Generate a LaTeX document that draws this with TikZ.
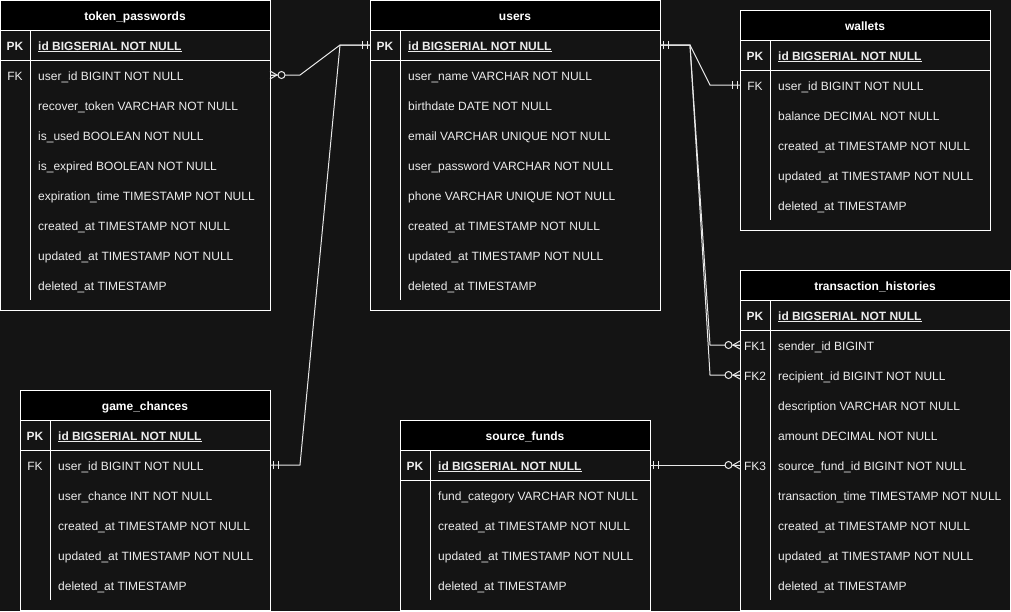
\documentclass[tikz,border=0pt]{standalone}
\usepackage{fontspec}
\setmainfont{Liberation Sans}
\usepackage{tikz}
\usetikzlibrary{positioning}
\definecolor{erbg}{RGB}{20,20,20}
\definecolor{erline}{RGB}{232,232,232}
\definecolor{ertext}{RGB}{236,236,236}
\tikzstyle{rel} = [draw=erline, line width=1pt]
\tikzstyle{sep} = [draw=white, line width=1pt]
\tikzset{
  pics/mone/.style={code={
    \draw[rel] (-3,-4) -- (-3,4);
    \draw[rel] (-8,-4) -- (-8,4);
  }},
  pics/zmany/.style={code={
    \draw[rel] (-7,0) -- (0,-4);
    \draw[rel] (-7,0) -- (0,0);
    \draw[rel] (-7,0) -- (0,4);
    \draw[rel, fill=erbg] (-11.5,0) circle (3.5pt);
  }}
}

\begin{document}
\begin{tikzpicture}[
    x=1pt, y=-1pt,
    every node/.style={font=\fontsize{12}{14}\selectfont, text=ertext},
    ttl/.style={rectangle, draw=white, fill=black, line width=1pt, minimum height=30pt, inner sep=0pt, outer sep=0pt, anchor=north west, text height=12pt, text depth=2pt, font=\fontsize{12}{14}\selectfont\bfseries, text=white},
    tbl/.style={rectangle, draw=white, line width=1pt, inner sep=0pt, outer sep=0pt, anchor=north},
    key/.style={inner sep=0pt, text height=12pt, text depth=2pt},
    pkey/.style={key, font=\fontsize{12}{14}\selectfont\bfseries},
    fld/.style={anchor=west, inner sep=0pt, text height=12pt, text depth=2pt}
]

% Background
\fill[erbg] (0,0) rectangle (1011,611);
\useasboundingbox (0,0) rectangle (1011,611);

% token_passwords (top left)
\node[ttl, minimum width=270pt] (tokpw-t) at (0,0) {token\_passwords};
\node[tbl, minimum width=270pt, minimum height=280pt] (tokpw) at (tokpw-t.south) {};
\draw[sep] (0,60) -- (270,60);
\draw[sep] (30,30) -- (30,300);
\node[pkey] (tokpw-pkk) at (15,45) {PK};
\node[fld] (tokpw-pk) at (38,45) {\bfseries\underline{id BIGSERIAL NOT NULL}};
\node[key] (tokpw-fkk) at (15,75) {FK};
\node[fld] (tokpw-fk) at (38,75) {user\_id BIGINT NOT NULL};
\node[fld] (tokpw-tok) at (38,105) {recover\_token VARCHAR NOT NULL};
\node[fld] (tokpw-used) at (38,135) {is\_used BOOLEAN NOT NULL};
\node[fld] (tokpw-exp) at (38,165) {is\_expired BOOLEAN NOT NULL};
\node[fld] (tokpw-time) at (38,195) {expiration\_time TIMESTAMP NOT NULL};
\node[fld] (tokpw-cr) at (38,225) {created\_at TIMESTAMP NOT NULL};
\node[fld] (tokpw-up) at (38,255) {updated\_at TIMESTAMP NOT NULL};
\node[fld] (tokpw-del) at (38,285) {deleted\_at TIMESTAMP};

% users (top middle)
\node[ttl, minimum width=290pt] (users-t) at (370,0) {users};
\node[tbl, minimum width=290pt, minimum height=280pt] (users) at (users-t.south) {};
\draw[sep] (370,60) -- (660,60);
\draw[sep] (400,30) -- (400,300);
\node[pkey] (users-pkk) at (385,45) {PK};
\node[fld] (users-pk) at (408,45) {\bfseries\underline{id BIGSERIAL NOT NULL}};
\node[fld] (users-name) at (408,75) {user\_name VARCHAR NOT NULL};
\node[fld] (users-birth) at (408,105) {birthdate DATE NOT NULL};
\node[fld] (users-mail) at (408,135) {email VARCHAR UNIQUE NOT NULL};
\node[fld] (users-pw) at (408,165) {user\_password VARCHAR NOT NULL};
\node[fld] (users-phone) at (408,195) {phone VARCHAR UNIQUE NOT NULL};
\node[fld] (users-cr) at (408,225) {created\_at TIMESTAMP NOT NULL};
\node[fld] (users-up) at (408,255) {updated\_at TIMESTAMP NOT NULL};
\node[fld] (users-del) at (408,285) {deleted\_at TIMESTAMP};

% wallets (top right)
\node[ttl, minimum width=250pt] (wallets-t) at (740,10) {wallets};
\node[tbl, minimum width=250pt, minimum height=190pt] (wallets) at (wallets-t.south) {};
\draw[sep] (740,70) -- (990,70);
\draw[sep] (770,40) -- (770,220);
\node[pkey] (wallets-pkk) at (755,55) {PK};
\node[fld] (wallets-pk) at (778,55) {\bfseries\underline{id BIGSERIAL NOT NULL}};
\node[key] (wallets-fkk) at (755,85) {FK};
\node[fld] (wallets-fk) at (778,85) {user\_id BIGINT NOT NULL};
\node[fld] (wallets-bal) at (778,115) {balance DECIMAL NOT NULL};
\node[fld] (wallets-cr) at (778,145) {created\_at TIMESTAMP NOT NULL};
\node[fld] (wallets-up) at (778,175) {updated\_at TIMESTAMP NOT NULL};
\node[fld] (wallets-del) at (778,205) {deleted\_at TIMESTAMP};

% transaction_histories (bottom right)
\node[ttl, minimum width=270pt] (trans-t) at (740,270) {transaction\_histories};
\node[tbl, minimum width=270pt, minimum height=310pt] (trans) at (trans-t.south) {};
\draw[sep] (740,330) -- (1010,330);
\draw[sep] (770,300) -- (770,600);
\node[pkey] (trans-pkk) at (755,315) {PK};
\node[fld] (trans-pk) at (778,315) {\bfseries\underline{id BIGSERIAL NOT NULL}};
\node[key] (trans-fk1k) at (755,345) {FK1};
\node[fld] (trans-fk1) at (778,345) {sender\_id BIGINT};
\node[key] (trans-fk2k) at (755,375) {FK2};
\node[fld] (trans-fk2) at (778,375) {recipient\_id BIGINT NOT NULL};
\node[fld] (trans-desc) at (778,405) {description VARCHAR NOT NULL};
\node[fld] (trans-amt) at (778,435) {amount DECIMAL NOT NULL};
\node[key] (trans-fk3k) at (755,465) {FK3};
\node[fld] (trans-fk3) at (778,465) {source\_fund\_id BIGINT NOT NULL};
\node[fld] (trans-time) at (778,495) {transaction\_time TIMESTAMP NOT NULL};
\node[fld] (trans-cr) at (778,525) {created\_at TIMESTAMP NOT NULL};
\node[fld] (trans-up) at (778,555) {updated\_at TIMESTAMP NOT NULL};
\node[fld] (trans-del) at (778,585) {deleted\_at TIMESTAMP};

% game_chances (bottom left)
\node[ttl, minimum width=250pt] (games-t) at (20,390) {game\_chances};
\node[tbl, minimum width=250pt, minimum height=190pt] (games) at (games-t.south) {};
\draw[sep] (20,450) -- (270,450);
\draw[sep] (50,420) -- (50,600);
\node[pkey] (games-pkk) at (35,435) {PK};
\node[fld] (games-pk) at (58,435) {\bfseries\underline{id BIGSERIAL NOT NULL}};
\node[key] (games-fkk) at (35,465) {FK};
\node[fld] (games-fk) at (58,465) {user\_id BIGINT NOT NULL};
\node[fld] (games-ch) at (58,495) {user\_chance INT NOT NULL};
\node[fld] (games-cr) at (58,525) {created\_at TIMESTAMP NOT NULL};
\node[fld] (games-up) at (58,555) {updated\_at TIMESTAMP NOT NULL};
\node[fld] (games-del) at (58,585) {deleted\_at TIMESTAMP};

% source_funds (bottom middle)
\node[ttl, minimum width=250pt] (funds-t) at (400,420) {source\_funds};
\node[tbl, minimum width=250pt, minimum height=160pt] (funds) at (funds-t.south) {};
\draw[sep] (400,480) -- (650,480);
\draw[sep] (430,450) -- (430,600);
\node[pkey] (funds-pkk) at (415,465) {PK};
\node[fld] (funds-pk) at (438,465) {\bfseries\underline{id BIGSERIAL NOT NULL}};
\node[fld] (funds-cat) at (438,495) {fund\_category VARCHAR NOT NULL};
\node[fld] (funds-cr) at (438,525) {created\_at TIMESTAMP NOT NULL};
\node[fld] (funds-up) at (438,555) {updated\_at TIMESTAMP NOT NULL};
\node[fld] (funds-del) at (438,585) {deleted\_at TIMESTAMP};

% Ports
\coordinate (users-pl) at (users.west |- users-pkk);
\coordinate (users-pr) at (users.east |- users-pkk);
\coordinate (tokpw-fkp) at (tokpw.east |- tokpw-fkk);
\coordinate (games-fkp) at (games.east |- games-fkk);
\coordinate (wallets-fkp) at (wallets.west |- wallets-fkk);
\coordinate (trans-fk1p) at (trans.west |- trans-fk1k);
\coordinate (trans-fk2p) at (trans.west |- trans-fk2k);
\coordinate (trans-fk3p) at (trans.west |- trans-fk3k);
\coordinate (funds-pkp) at (funds.east |- funds-pkk);

% Relations
\draw[rel] (tokpw-fkp) -- ++(30,0) -- ([xshift=-30pt]users-pl) -- (users-pl);
\draw[rel] (games-fkp) -- ++(30,0) -- ([xshift=-30pt]users-pl) -- (users-pl);
\draw[rel] (users-pr) -- ++(30,0) -- ([xshift=-30pt]wallets-fkp) -- (wallets-fkp);
\draw[rel] (users-pr) -- ++(30,0) -- ([xshift=-30pt]trans-fk1p) -- (trans-fk1p);
\draw[rel] (users-pr) -- ++(30,0) -- ([xshift=-30pt]trans-fk2p) -- (trans-fk2p);
\draw[rel] (funds-pkp) -- (trans-fk3p);

% Ends
\pic at (users-pl) {mone};
\pic[xscale=-1] at (users-pr) {mone};
\pic at (wallets-fkp) {mone};
\pic[xscale=-1] at (games-fkp) {mone};
\pic[xscale=-1] at (funds-pkp) {mone};
\pic[xscale=-1] at (tokpw-fkp) {zmany};
\pic at (trans-fk1p) {zmany};
\pic at (trans-fk2p) {zmany};
\pic at (trans-fk3p) {zmany};

\end{tikzpicture}
\end{document}
